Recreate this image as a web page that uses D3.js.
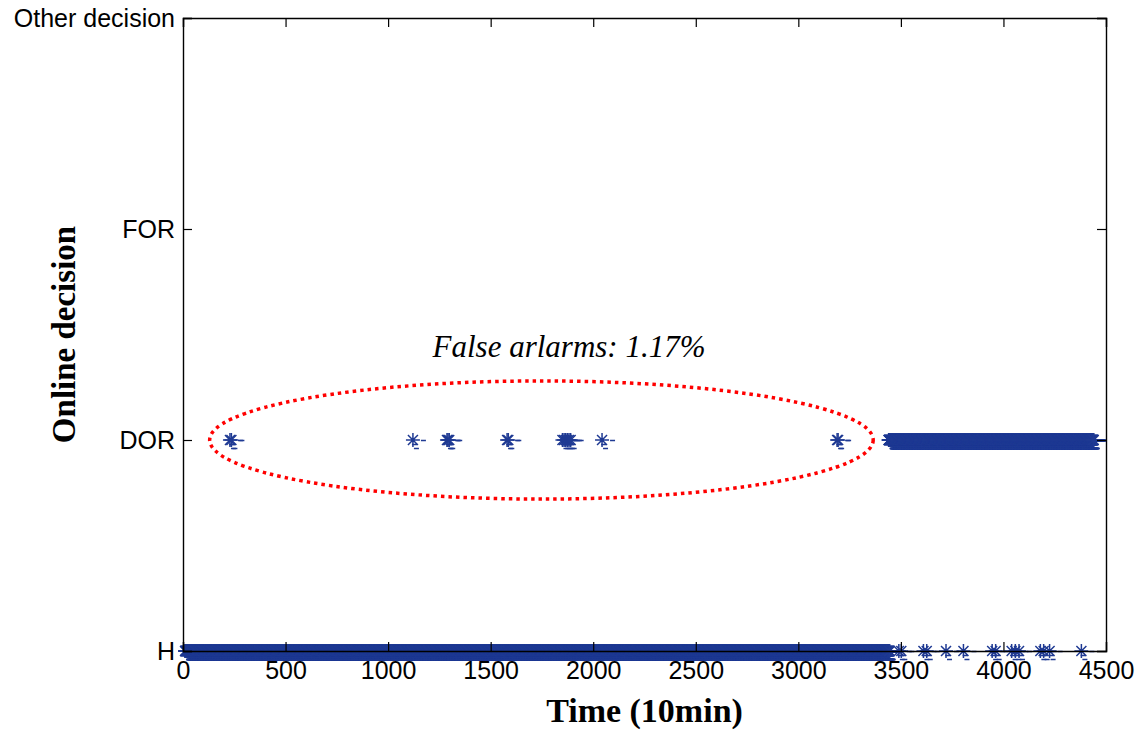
<!DOCTYPE html>
<html>
<head>
<meta charset="utf-8">
<script src="https://cdn.jsdelivr.net/npm/d3@7"></script>
<style>
  html, body { margin: 0; padding: 0; background: #fff; }
  svg { display: block; }
</style>
</head>
<body>
<svg id="chart" width="1141" height="733"></svg>
<script>
// ---------------- data ----------------
const decisionLabels = ["H", "DOR", "FOR", "Other decision"];
const xTicks = [0, 500, 1000, 1500, 2000, 2500, 3000, 3500, 4000, 4500];
// continuous runs of samples (10-min index) classified as H / DOR
const hRun = [10, 3445];
const dorRun = [3440, 4440];
// isolated false alarms (DOR) inside the healthy period
const falseAlarms = [229, 236, 1121, 1287, 1292, 1298, 1580, 1586, 1850, 1858, 1866, 1874, 1882, 1890, 2043, 3189, 3194];
// isolated H decisions inside the DOR period
const hLate = [3490, 3502, 3610, 3626, 3720, 3805, 3945, 3962, 4040, 4058, 4076, 4180, 4196, 4225, 4380];
const annotationText = "False arlarms: 1.17%";
const xTitle = "Time (10min)";
const yTitle = "Online decision";

// ---------------- layout ----------------
const svg = d3.select("#chart");
const L = 183, R = 1106, T = 18, B = 651;
const x = d3.scaleLinear().domain([0, 4500]).range([L, R]);
const y = d3.scaleLinear().domain([0, 3]).range([B, T]);
const blue = "#1f3a93";

// build sample list
const points = [];
const faSet = new Set(falseAlarms);
const hLateSet = new Set(hLate);
d3.range(hRun[0], hRun[1] + 1).forEach(t => { if (!faSet.has(t)) points.push({t, v: 0}); });
falseAlarms.forEach(t => points.push({t, v: 1}));
d3.range(dorRun[0], dorRun[1] + 1).forEach(t => { if (!hLateSet.has(t)) points.push({t, v: 1}); });
hLate.forEach(t => points.push({t, v: 0}));

// asterisk marker with MATLAB-like print artifacts
const r = 7, d = 5;
const markerPath =
  `M${-r},0L${r},0M0,${-r}L0,${r}M${-d},${-d}L${d},${d}M${-d},${d}L${d},${-d}` +
  `M${r + 1},0.5L${r + 6},0.5M-1,4.5L5,4.5M1,8.5L6,8.5`;

const marks = svg.append("g");
marks.selectAll("path")
  .data(points)
  .join("path")
  .attr("d", markerPath)
  .attr("transform", p => `translate(${x(p.t)},${y(p.v)})`)
  .attr("fill", "none")
  .attr("stroke", blue)
  .attr("stroke-width", 1.5);

// ---------------- axes ----------------
const axFont = "'Liberation Sans', Arial, sans-serif";
const gB = svg.append("g").attr("transform", `translate(0,${B})`)
  .call(d3.axisBottom(x).tickValues(xTicks).tickSize(-9).tickFormat(d3.format("d")));
const gT = svg.append("g").attr("transform", `translate(0,${T})`)
  .call(d3.axisTop(x).tickValues(xTicks).tickSize(-9).tickFormat(""));
const gL = svg.append("g").attr("transform", `translate(${L},0)`)
  .call(d3.axisLeft(y).tickValues([0, 1, 2, 3]).tickSize(-9).tickFormat(i => decisionLabels[i]));
const gR = svg.append("g").attr("transform", `translate(${R},0)`)
  .call(d3.axisRight(y).tickValues([0, 1, 2, 3]).tickSize(-9).tickFormat(""));

[gB, gT, gL, gR].forEach(g => {
  g.select(".domain").attr("stroke", "#000").attr("stroke-width", 1.4);
  g.selectAll(".tick line").attr("stroke", "#000").attr("stroke-width", 1.2);
  g.selectAll("text").attr("fill", "#000").style("font-family", axFont).style("font-size", "25px");
});
gB.selectAll(".tick text").attr("dy", null).attr("y", 28);
gL.selectAll(".tick text").attr("x", -8).attr("dy", "0.35em");

// titles
svg.append("text")
  .attr("x", (L + R) / 2).attr("y", 722)
  .attr("text-anchor", "middle")
  .style("font-family", "'Liberation Serif', 'Times New Roman', serif")
  .style("font-weight", "bold").style("font-size", "34px")
  .text(xTitle);

svg.append("text")
  .attr("transform", `translate(75,${(T + B) / 2}) rotate(-90)`)
  .attr("text-anchor", "middle")
  .style("font-family", "'Liberation Serif', 'Times New Roman', serif")
  .style("font-weight", "bold").style("font-size", "33px")
  .text(yTitle);

// ---------------- annotation ----------------
svg.append("ellipse")
  .attr("cx", (x(130) + x(3365)) / 2)
  .attr("cy", y(1))
  .attr("rx", (x(3365) - x(130)) / 2)
  .attr("ry", (y(0.72) - y(1.28)) / 2)
  .attr("fill", "none")
  .attr("stroke", "#ff0000")
  .attr("stroke-width", 3.5)
  .attr("stroke-dasharray", "3.5,4");

svg.append("text")
  .attr("x", 569).attr("y", 357)
  .attr("text-anchor", "middle")
  .style("font-family", "'Liberation Serif', 'Times New Roman', serif")
  .style("font-style", "italic").style("font-size", "31px")
  .text(annotationText);
</script>
</body>
</html>
